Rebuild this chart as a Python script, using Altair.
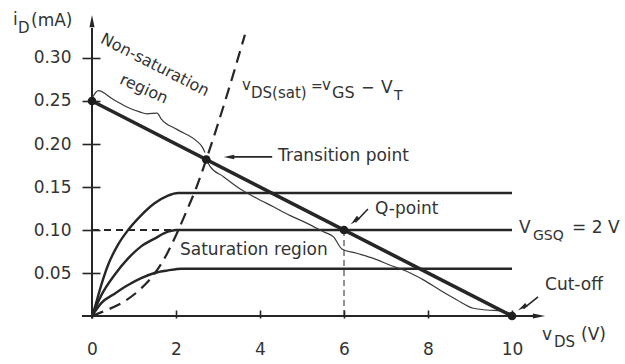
import altair as alt
import pandas as pd

# ---- drain characteristics i_D (mA) versus v_DS (V) for three gate voltages ----
v_top = [0, 0.06, 0.22, 0.38, 0.62, 0.86, 1.17, 1.49, 1.81, 2.05, 10.0]
i_top = [0, 0.009, 0.036, 0.059, 0.083, 0.100, 0.117, 0.131, 0.140, 0.143, 0.143]
v_mid = [0, 0.22, 0.54, 0.86, 1.17, 1.49, 1.81, 2.0, 10.0]
i_mid = [0, 0.024, 0.048, 0.067, 0.081, 0.090, 0.098, 0.100, 0.100]
v_low = [0, 0.22, 0.54, 0.86, 1.17, 1.49, 1.81, 2.13, 10.0]
i_low = [0, 0.015, 0.026, 0.036, 0.044, 0.050, 0.053, 0.055, 0.055]

# boundary v_DS(sat) = v_GS - V_T
v_sat = [0, 0.31, 0.77, 1.19, 1.50, 1.76, 2.00, 2.26, 2.49, 2.72, 3.17, 3.64]
i_sat = [0, 0.006, 0.017, 0.033, 0.050, 0.070, 0.094, 0.123, 0.150, 0.182, 0.250, 0.327]

# load line
v_load = [0, 10]
i_load = [0.25, 0.0]

# marked points: axis intercept, transition point, Q-point, cut-off
v_pts = [0, 2.72, 6, 10]
i_pts = [0.25, 0.182, 0.10, 0.0]

# braces along the load line (non-saturation part above, saturation part below)
v_brace_ns = [0.02, 0.15, 0.5, 0.83, 1.15, 1.31, 1.55, 1.65, 2.02, 2.50, 2.62, 2.69]
i_brace_ns = [0.255, 0.262, 0.252, 0.243, 0.237, 0.235, 0.236, 0.229, 0.217, 0.203, 0.197, 0.190]
v_brace_s = [2.72, 2.81, 3.13, 3.52, 3.92, 4.32, 4.71, 5.11, 5.51, 5.75, 5.95, 6.30,
             6.70, 7.10, 7.49, 7.89, 8.29, 8.68, 9.08, 9.40, 9.75, 10.0]
i_brace_s = [0.182, 0.174, 0.162, 0.148, 0.137, 0.127, 0.117, 0.108, 0.098, 0.092, 0.078, 0.073,
             0.067, 0.059, 0.052, 0.042, 0.030, 0.019, 0.009, 0.007, 0.006, 0.002]

# axis ticks
x_ticks = [0, 2, 4, 6, 8, 10]
y_ticks = [0.05, 0.10, 0.15, 0.20, 0.25, 0.30]

# text pieces (left aligned, alphabetic baseline); subscripts are separate pieces
ann_text = ["i", "D", "(mA)",
            "v", "DS(sat)", "=", "v", "GS", "\u2212", "V", "T",
            "Transition point", "Q-point", "Saturation region", "Cut-off",
            "V", "GSQ", "= 2 V",
            "v", "DS", "(V)"]
ann_v = [-1.881, -1.762, -1.452,
         3.571, 3.786, 5.214, 5.476, 5.714, 6.405, 6.881, 7.190,
         4.429, 6.738, 2.095, 10.786,
         10.167, 10.50, 11.429,
         10.714, 11.0, 11.643]
ann_i = [0.3384, 0.3291, 0.3372,
         0.2628, 0.2535, 0.2616, 0.2628, 0.2535, 0.2593, 0.2593, 0.2512,
         0.1802, 0.1186, 0.0709, 0.0302,
         0.0965, 0.0884, 0.0965,
         -0.0279, -0.0360, -0.0279]
ann_size = [17, 15, 17,
            15, 15, 14, 15, 16, 16, 17, 14,
            17, 17, 17, 17,
            17, 14, 17,
            17, 15, 17]

# slanted region label
rot_text = ["Non-saturation", "region"]
rot_v = [1.50, 1.238]
rot_i = [0.2919, 0.264]
rot_angle = [27, 24]

# pointer arrows: shaft segments and heads
arr_v1 = [4.29, 6.57, 10.62]
arr_i1 = [0.185, 0.1244, 0.0221]
arr_v2 = [3.30, 6.27, 10.27]
arr_i2 = [0.185, 0.1090, 0.0085]
head_v = [3.262, 6.25, 10.24, 10.643, 0.0]
head_i = [0.1849, 0.1105, 0.0097, 0.0, 0.343]
head_angle = [270, 228, 236, 90, 0]
head_size = [110, 110, 110, 150, 150]

INK = "#262626"
TXT = "#333333"
FONT = "DejaVu Sans"

XS = alt.Scale(domain=[-2.1905, 12.690], nice=False, zero=False)
YS = alt.Scale(domain=[-0.05581, 0.36744], nice=False, zero=False)

XAX = alt.Axis(values=x_ticks, title=None, domain=False, grid=False, format="d",
               tickSize=8, tickWidth=1.6, tickColor=INK, offset=-54,
               labelPadding=23, labelFont=FONT, labelFontSize=17, labelColor=TXT,
               labelFlush=False, labelOverlap=False)
YAX = alt.Axis(values=y_ticks, title=None, domain=False, grid=False, format=".2f",
               tickSize=18, tickWidth=1.6, tickColor=INK, offset=-100,
               labelPadding=11, labelFont=FONT, labelFontSize=17, labelColor=TXT,
               labelFlush=False, labelOverlap=False)


def X(f="v"):
    return alt.X(f"{f}:Q", scale=XS, axis=XAX)


def Y(f="i"):
    return alt.Y(f"{f}:Q", scale=YS, axis=YAX)


curves = pd.concat([
    pd.DataFrame({"v": v_top, "i": i_top, "curve": "top"}),
    pd.DataFrame({"v": v_mid, "i": i_mid, "curve": "mid"}),
    pd.DataFrame({"v": v_low, "i": i_low, "curve": "low"}),
])
braces = pd.concat([
    pd.DataFrame({"v": v_brace_ns, "i": i_brace_ns, "brace": "ns"}),
    pd.DataFrame({"v": v_brace_s, "i": i_brace_s, "brace": "s"}),
])

char_lines = alt.Chart(curves).mark_line(
    interpolate="monotone", color=INK, strokeWidth=2.4
).encode(x=X(), y=Y(), detail="curve:N")

sat_line = alt.Chart(pd.DataFrame({"v": v_sat, "i": i_sat})).mark_line(
    interpolate="monotone", color=INK, strokeWidth=2.2, strokeDash=[12, 7]
).encode(x=X(), y=Y())

load_line = alt.Chart(pd.DataFrame({"v": v_load, "i": i_load})).mark_line(
    color=INK, strokeWidth=3.6
).encode(x=X(), y=Y())

brace_lines = alt.Chart(braces).mark_line(
    interpolate="monotone", color="#3a3a3a", strokeWidth=1.2
).encode(x=X(), y=Y(), detail="brace:N")

# dashed guides to the Q-point level and voltage
q_level = alt.Chart(pd.DataFrame({"v": [0], "v2": [2.0], "i": [0.10]})).mark_rule(
    color=INK, strokeWidth=1.8, strokeDash=[7, 5]
).encode(x=X(), x2="v2:Q", y=Y())
q_drop = alt.Chart(pd.DataFrame({"v": [6], "i": [0.0], "i2": [0.10]})).mark_rule(
    color=INK, strokeWidth=1.0, strokeDash=[6, 4]
).encode(x=X(), y=Y(), y2="i2:Q")

# coordinate axes lines
axes_df = pd.DataFrame({"v": [-0.24, 0.0], "v2": [10.55, 0.0],
                        "i": [0.0, -0.003], "i2": [0.0, 0.335]})
axis_lines = alt.Chart(axes_df).mark_rule(color=INK, strokeWidth=2.0).encode(
    x=X(), x2="v2:Q", y=Y(), y2="i2:Q")

dots = alt.Chart(pd.DataFrame({"v": v_pts, "i": i_pts})).mark_circle(
    color="#1e1e1e", opacity=1, size=75
).encode(x=X(), y=Y())

shafts = alt.Chart(pd.DataFrame({"v": arr_v1, "v2": arr_v2, "i": arr_i1, "i2": arr_i2})).mark_rule(
    color=INK, strokeWidth=1.6
).encode(x=X(), x2="v2:Q", y=Y(), y2="i2:Q")

heads = alt.Chart(pd.DataFrame({"v": head_v, "i": head_i, "angle": head_angle,
                                "size": head_size})).mark_point(
    shape="M0,-1L0.42,1L-0.42,1Z", filled=True, color=INK, opacity=1, strokeWidth=0
).encode(x=X(), y=Y(), angle=alt.Angle("angle:Q", scale=None),
         size=alt.Size("size:Q", scale=None))

labels = alt.Chart(pd.DataFrame({"text": ann_text, "v": ann_v, "i": ann_i,
                                 "size": ann_size})).mark_text(
    align="left", baseline="alphabetic", font=FONT, color=TXT
).encode(x=X(), y=Y(), text="text:N", size=alt.Size("size:Q", scale=None))

slanted = alt.Chart(pd.DataFrame({"text": rot_text, "v": rot_v, "i": rot_i,
                                  "angle": rot_angle})).mark_text(
    align="center", baseline="middle", font=FONT, color=TXT, fontSize=16
).encode(x=X(), y=Y(), text="text:N", angle=alt.Angle("angle:Q", scale=None))

chart = alt.layer(
    axis_lines, q_level, q_drop, char_lines, sat_line, brace_lines, load_line,
    dots, shafts, heads, labels, slanted
).properties(
    width=625, height=364,
    autosize=alt.AutoSizeParams(type="none"),
    padding=0,
    background="white",
).configure_view(stroke=None)

chart.save("out.html", embed_options={"renderer": "svg", "actions": False})
